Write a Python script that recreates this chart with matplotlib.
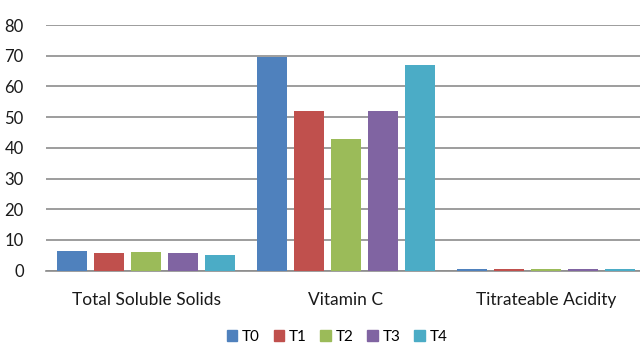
import numpy as np
import matplotlib
matplotlib.use("Agg")
import matplotlib.pyplot as plt
from matplotlib.patches import Patch

plt.rcParams["font.family"] = ["Lato", "DejaVu Sans"]

categorias = ["Total Soluble Solids", "Vitamin C", "Titrateable Acidity"]
series = ["T0", "T1", "T2", "T3", "T4"]
T0 = [6.5, 69.5, 0.6]
T1 = [5.7, 52.1, 0.6]
T2 = [6.0, 43.0, 0.5]
T3 = [5.7, 52.1, 0.6]
T4 = [5.0, 67.1, 0.5]
valores = [T0, T1, T2, T3, T4]
colores = ["#4F81BD", "#C0504D", "#9BBB59", "#8064A2", "#4BACC6"]

fig = plt.figure(figsize=(6.4, 3.45), dpi=100)
ax = fig.add_axes([46 / 640, 74.3 / 345, 594 / 640, 245.7 / 345])

x = np.arange(len(categorias))
paso = 0.185
ancho = 0.147
for i, (nombre, vals) in enumerate(zip(series, valores)):
    ax.bar(x + (i - 2) * paso, vals, width=ancho, color=colores[i], label=nombre, zorder=3)

ax.set_xlim(-0.5, 2.47)
ax.set_ylim(0, 80)
ax.set_yticks(range(0, 81, 10))
ax.yaxis.grid(True, color="#8c8c8c", linewidth=1.2, zorder=0)
ax.set_axisbelow(True)
for s in ["top", "right", "left"]:
    ax.spines[s].set_visible(False)
ax.spines["bottom"].set_color("#8c8c8c")
ax.spines["bottom"].set_linewidth(1.2)
ax.set_xticks(x)
ax.set_xticklabels(categorias, fontsize=12.5, color="#1a1a1a")
ax.tick_params(axis="x", length=0, pad=15)
ax.tick_params(axis="y", length=0, pad=16, labelsize=12, labelcolor="#1a1a1a")

handles = [Patch(color=c, label=n) for c, n in zip(colores, series)]
fig.legend(handles=handles, loc="center", bbox_to_anchor=(337 / 640, 8 / 345), ncol=5,
           frameon=False, fontsize=11, handlelength=0.7, handleheight=0.7,
           handletextpad=0.3, columnspacing=0.9)

fig.savefig("out.png", dpi=100)
